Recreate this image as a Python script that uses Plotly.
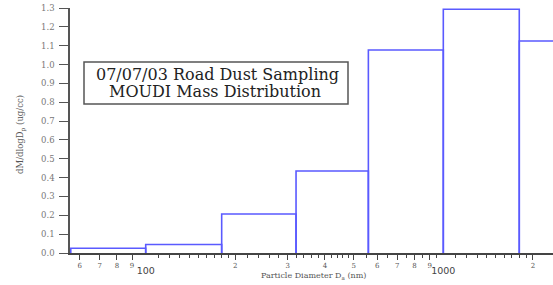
import plotly.graph_objects as go

# MOUDI stage cut diameters (nm) and mass distribution values
edges = [56, 100, 180, 320, 560, 1000, 1800, 3200]
values = [0.025, 0.045, 0.207, 0.435, 1.077, 1.293, 1.125]

y_ticks = [round(0.1 * i, 1) for i in range(14)]
x_label_vals = [60, 70, 80, 90, 200, 300, 400, 500, 600, 700, 800, 900, 2000]
x_label_text = ["6", "7", "8", "9", "2", "3", "4", "5", "6", "7", "8", "9", "2"]
x_major_vals = [100, 1000]
x_major_text = ["100", "1000"]
x_minor_vals = ([110, 120, 130, 140, 150, 160, 170, 180, 190, 220, 240, 260, 280,
                 320, 340, 360, 380, 420, 440, 460, 480, 550, 650, 750, 850, 950] +
                [1100, 1200, 1300, 1400, 1500, 1600, 1700, 1800, 1900])

BLUE = "#5a5aff"
serif = "DejaVu Serif, serif"
sans = "DejaVu Sans, sans-serif"

L, T, B, W, H = 70, 8, 32, 553, 285
PW, PH = W - L, H - T - B


def px(xp):
    return (xp - L) / PW


def py(yp):
    return (H - B - yp) / PH


xs, ys = [], []
for i, v in enumerate(values):
    x0, x1 = edges[i], edges[i + 1]
    xs += [x0, x0, x1, x1, None]
    ys += [0, v, v, 0, None]

fig = go.Figure()
fig.add_trace(go.Scatter(x=xs, y=ys, mode="lines",
                         line=dict(color=BLUE, width=1.6),
                         hoverinfo="skip", showlegend=False))
fig.add_trace(go.Scatter(x=[100], y=[0], xaxis="x2", mode="markers",
                         marker=dict(opacity=0), showlegend=False, hoverinfo="skip"))

xr = [1.7456, 3.3686]
fig.update_layout(
    width=W, height=H,
    margin=dict(l=L, r=0, t=T, b=B),
    plot_bgcolor="white", paper_bgcolor="white",
    xaxis=dict(type="log", range=xr, tickvals=x_label_vals, ticktext=x_label_text,
               ticks="outside", ticklen=5, tickwidth=1, tickcolor="#444",
               showline=True, linecolor="#444", linewidth=1.5, showgrid=False,
               zeroline=False, automargin=False,
               tickfont=dict(family=serif, size=7, color="#555"),
               minor=dict(tickvals=x_minor_vals, ticks="outside", ticklen=3,
                          tickcolor="#444", showgrid=False)),
    xaxis2=dict(type="log", range=xr, overlaying="x", anchor="y", side="bottom",
                tickvals=x_major_vals, ticktext=x_major_text,
                ticks="", ticklabelstandoff=10, automargin=False,
                showline=False, showgrid=False, zeroline=False,
                tickfont=dict(family=sans, size=9.5, color="#444")),
    yaxis=dict(range=[0, 1.3], tickvals=y_ticks, ticktext=[f"{t:.1f}" for t in y_ticks],
               ticks="outside", ticklen=9, tickwidth=1, tickcolor="#555",
               showline=True, linecolor="#555", linewidth=1.5, showgrid=False,
               zeroline=False, automargin=False, ticklabelstandoff=3,
               tickfont=dict(family=serif, size=8.5, color="#777")),
    shapes=[dict(type="rect", xref="paper", yref="paper",
                 x0=px(84), x1=px(348), y0=py(104), y1=py(62),
                 line=dict(color="#555", width=1.5), fillcolor="white")],
    annotations=[
        dict(xref="paper", yref="paper", x=px(217), y=py(75), xanchor="center",
             yanchor="middle", showarrow=False, text="07/07/03 Road Dust Sampling",
             font=dict(family=serif, size=16, color="#222")),
        dict(xref="paper", yref="paper", x=px(215), y=py(91.5), xanchor="center",
             yanchor="middle", showarrow=False, text="MOUDI Mass Distribution",
             font=dict(family=serif, size=16, color="#222")),
        dict(xref="paper", yref="paper", x=px(21), y=py(135), xanchor="center",
             yanchor="middle", showarrow=False, textangle=-90,
             text="dM/dlogD<sub>p</sub> (ug/cc)",
             font=dict(family=serif, size=8.5, color="#555")),
        dict(xref="paper", yref="paper", x=px(313), y=py(276), xanchor="center",
             yanchor="middle", showarrow=False,
             text="Particle Diameter D<sub>a</sub> (nm)",
             font=dict(family=serif, size=8, color="#555")),
    ],
)

fig.write_html("out.html", config={"displayModeBar": False},
               post_script="document.body.style.margin='0';")
